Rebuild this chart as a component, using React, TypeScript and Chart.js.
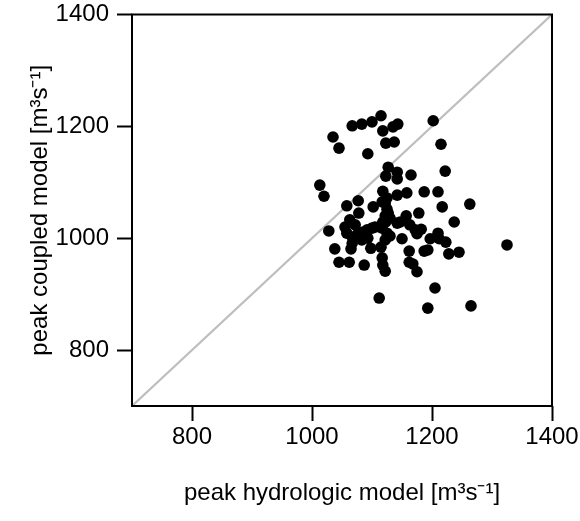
import React, { useEffect, useRef } from 'react';
import { Chart, registerables } from 'chart.js';

Chart.register(...registerables);

const hydrologic = [
  1035, 1045, 1067, 1083, 1100, 1115, 1118, 1135, 1143, 1093, 1123, 1137, 1202, 1215,
  1127, 1123, 1142, 1142, 1165, 1222, 1013, 1020, 1118, 1142, 1158, 1187, 1210, 1077, 1058, 1102,
  1217, 1263, 1122, 1125, 1078, 1122, 1123, 1157, 1147, 1178, 1163, 1172, 1182, 1175, 1237, 1028,
  1130, 1150, 1197, 1210, 1212, 1223, 1038, 1065, 1098, 1115, 1162, 1187, 1193, 1228, 1245, 1045,
  1062, 1087, 1117, 1118, 1122, 1162, 1168, 1175, 1205, 1112, 1193, 1265, 1325,
  1063, 1055, 1072, 1058, 1067, 1077, 1085, 1092, 1100, 1105, 1093, 1083, 1067, 1117, 1127, 1130,
  1118, 1117, 1125, 1122, 1125, 1142,
];

const coupled = [
  1181, 1161, 1201, 1204, 1208, 1219, 1192, 1199, 1204, 1151, 1170, 1172, 1210, 1168,
  1127, 1111, 1118, 1106, 1113, 1120, 1095, 1075, 1084, 1077, 1081, 1083, 1083, 1067, 1058, 1056,
  1056, 1061, 1063, 1052, 1045, 1040, 1029, 1040, 1029, 1045, 1024, 1015, 1016, 1008, 1029, 1013,
  1004, 999, 999, 1009, 999, 993, 981, 981, 982, 984, 977, 977, 979, 972, 975, 957,
  957, 952, 965, 952, 941, 957, 954, 940, 911, 893, 875, 879, 988,
  1033, 1020, 1024, 1009, 1002, 1009, 1011, 1015, 1018, 1020, 1000, 997, 991, 1065, 1045, 1036,
  1029, 1018, 1009, 997, 1072, 1027,
];

const xTicks = [800, 1000, 1200, 1400];
const yTicks = [800, 1000, 1200, 1400];
const axisRange = [700, 1400];
const xTitle = 'peak hydrologic model [m³s⁻¹]';
const yTitle = 'peak coupled model [m³s⁻¹]';

const FONT = '"Liberation Sans", Arial, Helvetica, sans-serif';

const boxPlugin = {
  id: 'boxPlugin',
  afterDraw(chart: any) {
    const { ctx, chartArea } = chart;
    ctx.save();
    ctx.strokeStyle = '#000';
    ctx.lineWidth = 2;
    ctx.strokeRect(chartArea.left, chartArea.top, chartArea.right - chartArea.left, chartArea.bottom - chartArea.top);
    ctx.restore();
  },
};

export default function App() {
  const ref = useRef<HTMLCanvasElement | null>(null);

  useEffect(() => {
    if (!ref.current) return;
    const points = hydrologic.map((x, i) => ({ x, y: coupled[i] }));
    const chart = new Chart(ref.current, {
      type: 'scatter',
      data: {
        datasets: [
          {
            type: 'line',
            data: [
              { x: axisRange[0], y: axisRange[0] },
              { x: axisRange[1], y: axisRange[1] },
            ],
            borderColor: '#bebebe',
            borderWidth: 2.2,
            pointRadius: 0,
            fill: false,
            order: 2,
          } as any,
          {
            data: points,
            backgroundColor: '#000',
            borderWidth: 0,
            pointRadius: 5.8,
            order: 1,
          },
        ],
      },
      plugins: [boxPlugin],
      options: {
        animation: false,
        responsive: false,
        events: [],
        layout: { padding: { top: 14.5, right: 28, left: 0, bottom: 0 } },
        plugins: { legend: { display: false }, tooltip: { enabled: false } },
        scales: {
          x: {
            type: 'linear',
            min: axisRange[0],
            max: axisRange[1],
            afterBuildTicks: (s: any) => {
              s.ticks = xTicks.map((v) => ({ value: v }));
            },
            afterFit: (s: any) => {
              s.height = 115;
              s.paddingLeft = 0;
              s.paddingRight = 0;
            },
            border: { display: false },
            grid: {
              drawOnChartArea: false,
              drawTicks: true,
              tickLength: 15,
              tickColor: '#000',
              tickWidth: 2,
            },
            ticks: {
              color: '#000',
              font: { family: FONT, size: 24 },
              padding: 2,
              maxRotation: 0,
              callback: (v: any) => String(v),
            },
            title: {
              display: true,
              text: xTitle,
              color: '#000',
              font: { family: FONT, size: 24 },
              padding: { top: 0, bottom: 13 },
            },
          },
          y: {
            type: 'linear',
            min: axisRange[0],
            max: axisRange[1],
            afterBuildTicks: (s: any) => {
              s.ticks = yTicks.map((v) => ({ value: v }));
            },
            afterFit: (s: any) => {
              s.width = 132;
              s.paddingTop = 0;
              s.paddingBottom = 0;
            },
            border: { display: false },
            grid: {
              drawOnChartArea: false,
              drawTicks: true,
              tickLength: 15,
              tickColor: '#000',
              tickWidth: 2,
            },
            ticks: {
              color: '#000',
              font: { family: FONT, size: 24 },
              padding: 8,
              callback: (v: any) => String(v),
            },
            title: {
              display: true,
              text: yTitle,
              color: '#000',
              font: { family: FONT, size: 24 },
              padding: { top: 26, bottom: 0 },
            },
          },
        },
      },
    });
    return () => chart.destroy();
  }, []);

  return (
    <div style={{ position: 'absolute', left: 0, top: 0, width: 580, height: 521, background: '#fff' }}>
      <canvas ref={ref} width={580} height={521} />
    </div>
  );
}
